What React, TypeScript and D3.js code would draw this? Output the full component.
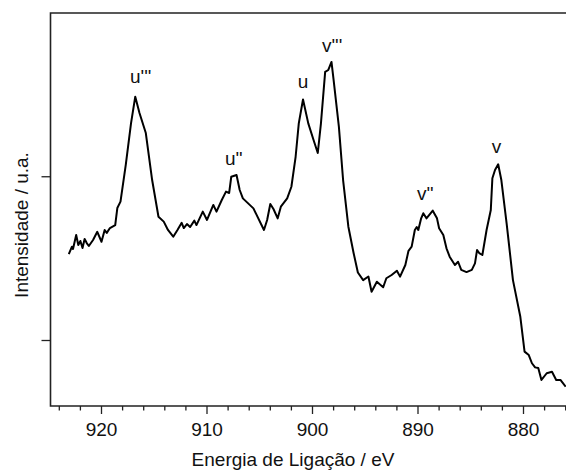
import React from "react";
import * as d3 from "d3";

const energy = [
  923.1, 922.8, 922.7, 922.4, 922.2, 922.0, 921.8, 921.6, 921.4, 921.2,
  920.8, 920.4, 920.0, 919.7, 919.5, 919.2, 918.7, 918.5, 918.2, 917.7,
  917.2, 916.8, 916.4, 915.8, 915.2, 914.6, 914.1, 913.7, 913.2, 912.8,
  912.4, 912.2, 911.9, 911.6, 911.2, 911.0, 910.4, 910.0, 909.4, 909.1,
  908.6, 908.2, 907.9, 907.7, 907.2, 906.9, 906.6, 905.6, 904.6, 904.3,
  904.0, 903.7, 903.3, 903.0, 902.4, 902.0, 901.6, 901.3, 900.9, 900.4,
  899.9, 899.5, 899.2, 898.8, 898.5, 898.2, 898.0, 897.5, 897.1, 896.6,
  896.1, 895.7, 895.2, 894.7, 894.4, 893.9, 893.3, 893.0, 892.5, 892.0,
  891.7, 891.2, 890.9, 890.6, 890.3, 890.12, 889.97, 889.7, 889.5, 889.2,
  888.6, 888.2, 888.0, 887.6, 887.3, 887.0, 886.5, 886.2, 885.9, 885.4,
  884.9, 884.6, 884.4, 884.2, 883.9, 883.5, 883.1, 882.95, 882.7, 882.4,
  882.1, 881.6, 881.0, 880.3, 879.9, 879.5, 879.2, 878.9, 878.6, 878.3,
  877.8, 877.3, 876.9, 876.5, 876.0,
];

const intensity = [
  1528, 1573, 1559, 1644, 1583, 1608, 1565, 1620, 1595, 1577,
  1614, 1664, 1603, 1675, 1657, 1687, 1705, 1809, 1848, 2072,
  2328, 2489, 2389, 2267, 1980, 1756, 1726, 1675, 1634, 1675,
  1719, 1687, 1711, 1693, 1732, 1705, 1787, 1736, 1828, 1787,
  1858, 1909, 1901, 2000, 2011, 1919, 1868, 1807, 1675, 1736,
  1834, 1803, 1746, 1817, 1868, 1939, 2122, 2326, 2472, 2326,
  2224, 2145, 2326, 2640, 2652, 2701, 2591, 2306, 1980, 1695,
  1533, 1415, 1369, 1391, 1298, 1359, 1325, 1380, 1400, 1426,
  1390, 1461, 1548, 1573, 1675, 1693, 1675, 1746, 1777, 1746,
  1793, 1746, 1685, 1644, 1563, 1512, 1461, 1481, 1431, 1418,
  1431, 1471, 1553, 1534, 1522, 1675, 1797, 1991, 2041, 2076,
  1980, 1716, 1369, 1145, 932, 911, 861, 836, 832, 759,
  800, 809, 759, 759, 718,
];

const peakLabels = ["u'''", "u''", "u", "v'''", "v''", "v"];
const peakLabelEnergy = [917.3, 908.3, 901.4, 899.1, 890.1, 883.0];
const peakLabelIntensity = [2573, 2072, 2542, 2762, 1858, 2145];

const xMajorTicks = [920, 910, 900, 890, 880];
const xMinorTicks = d3.range(924, 875, -2);
const yTicks = [1000, 2000];

const xTitle = "Energia de Ligação / eV";
const yTitle = "Intensidade / u.a.";

const W = 566;
const H = 472;
const left = 50.5;
const top = 13;
const bottom = 406;
const FONT = "'Liberation Sans', Arial, Helvetica, sans-serif";

export default function App() {
  const x = d3.scaleLinear().domain([920, 880]).range([101.5, 523.5]);
  const y = d3.scaleLinear().domain([600, 3000]).range([bottom, top]);
  const right = W + 10;

  const pts: [number, number][] = energy.map((e, i) => [e, intensity[i]]);
  const line = d3
    .line<[number, number]>()
    .x((d) => x(d[0]))
    .y((d) => y(d[1]));

  return (
    <svg
      width={W}
      height={H}
      style={{ position: "absolute", left: 0, top: 0, background: "#fff" }}
      fontFamily={FONT}
    >
      <rect x={0} y={0} width={W} height={H} fill="#fff" />
      {/* frame */}
      <path
        d={`M${right},${top}H${left}V${bottom}H${right}`}
        fill="none"
        stroke="#222"
        strokeWidth={1.6}
      />
      {/* x minor ticks */}
      {xMinorTicks.map((t) => (
        <line
          key={"mn" + t}
          x1={x(t)}
          x2={x(t)}
          y1={bottom}
          y2={bottom + (t % 10 === 0 ? 8 : 4.5)}
          stroke="#222"
          strokeWidth={1.3}
        />
      ))}
      {xMajorTicks.map((t) => (
        <text
          key={"lb" + t}
          x={x(t)}
          y={436}
          textAnchor="middle"
          fontSize={19}
          fill="#111"
        >
          {t}
        </text>
      ))}
      {yTicks.map((t) => (
        <line
          key={"yt" + t}
          x1={left - 9}
          x2={left}
          y1={y(t)}
          y2={y(t)}
          stroke="#222"
          strokeWidth={1.3}
        />
      ))}
      <text x={293} y={466} textAnchor="middle" fontSize={19} fill="#111">
        {xTitle}
      </text>
      <text
        transform={`translate(28,225) rotate(-90)`}
        textAnchor="middle"
        fontSize={19}
        fill="#111"
      >
        {yTitle}
      </text>
      <path
        d={line(pts) || ""}
        fill="none"
        stroke="#000"
        strokeWidth={2}
        strokeLinejoin="round"
      />
      {peakLabels.map((l, i) => (
        <text
          key={"pk" + i}
          x={x(peakLabelEnergy[i])}
          y={y(peakLabelIntensity[i])}
          fontSize={19}
          fill="#111"
        >
          {l}
        </text>
      ))}
    </svg>
  );
}
